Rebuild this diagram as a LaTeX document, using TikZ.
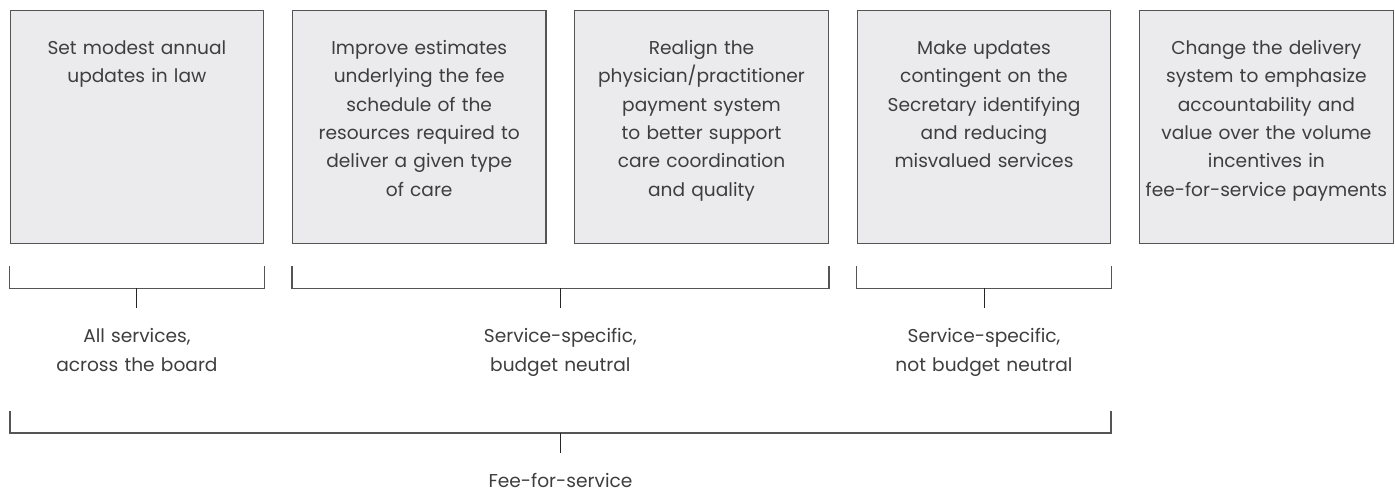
\documentclass[tikz,border=0pt]{standalone}
\usepackage{fontspec}
\setmainfont{Poppins}
\usetikzlibrary{calc}
\definecolor{boxfill}{RGB}{235,235,238}
\definecolor{edge}{RGB}{85,85,85}
\definecolor{ink}{RGB}{62,62,62}
\begin{document}
\begin{tikzpicture}[x=1pt,y=-1pt,
  stage/.style={draw=edge, line width=1.3pt, fill=boxfill, minimum width=253.5pt,
    minimum height=233pt, inner sep=0pt, anchor=north west},
  stagetext/.style={text=ink, align=center, font=\fontsize{18.6}{28.3}\selectfont,
    anchor=base, inner sep=0pt, text width=253pt},
  bracketline/.style={draw=edge, line width=1.6pt},
  tickline/.style={draw=black!85, line width=1pt},
  grouplabel/.style={text=ink, align=center, font=\fontsize{18.6}{29}\selectfont,
    anchor=base, inner sep=0pt, text width=300pt},
]
\useasboundingbox (0,0) rectangle (1395,493);

% policy option boxes
\node[stage] (b1) at (9.5,9.5) {};
\node[stage] (b2) at (291.8,9.5) {};
\node[stage] (b3) at (574.1,9.5) {};
\node[stage] (b4) at (856.6,9.5) {};
\node[stage] (b5) at (1139,9.5) {};

\node[stagetext] (t1) at ($(b1.north)+(0,45)$) {Set modest annual\\updates in law};
\node[stagetext] (t2) at ($(b2.north)+(0,45)$) {Improve estimates\\underlying the fee\\schedule of the\\resources required to\\deliver a given type\\of care};
\node[stagetext] (t3) at ($(b3.north)+(0,45)$) {Realign the\\physician/practitioner\\payment system\\to better support\\care coordination\\and quality};
\node[stagetext] (t4) at ($(b4.north)+(0,45)$) {Make updates\\contingent on the\\Secretary identifying\\and reducing\\misvalued services};
\node[stagetext] (t5) at ($(b5.north)+(0,45)$) {Change the delivery\\system to emphasize\\accountability and\\value over the volume\\incentives in\\fee-for-service payments};

% first row of brackets
\draw[bracketline] ($(b1.south west)+(0,22.5)$) -- ++(0,22) -| ($(b1.south east)+(0,22.5)$);
\draw[bracketline] ($(b2.south west)+(0,22.5)$) -- ++(0,22) -| ($(b3.south east)+(0,22.5)$);
\draw[bracketline] ($(b4.south west)+(0,22.5)$) -- ++(0,22) -| ($(b4.south east)+(0,22.5)$);

\coordinate (m1) at ($(b1.south west)!0.5!(b1.south east)+(0,44.5)$);
\coordinate (m2) at ($(b2.south west)!0.5!(b3.south east)+(0,44.5)$);
\coordinate (m3) at ($(b4.south west)!0.5!(b4.south east)+(0,44.5)$);
\draw[tickline] (m1) -- ++(0,20);
\draw[tickline] (m2) -- ++(0,20);
\draw[tickline] (m3) -- ++(0,20);

\node[grouplabel] (g1) at ($(m1)+(0,54)$) {All services,\\across the board};
\node[grouplabel] (g2) at ($(m2)+(0,54)$) {Service-specific,\\budget neutral};
\node[grouplabel] (g3) at ($(m3)+(0,54)$) {Service-specific,\\not budget neutral};

% overall bracket
\draw[bracketline, line width=2pt] ($(b1.south west)+(0,167.5)$) -- ++(0,22) -| ($(b4.south east)+(0,167.5)$);
\coordinate (m4) at ($(b1.south west)!0.5!(b4.south east)+(0,189.5)$);
\draw[tickline] (m4) -- ++(0,20);
\node[grouplabel] (g4) at ($(m4)+(0,54)$) {Fee-for-service};
\end{tikzpicture}
\end{document}
